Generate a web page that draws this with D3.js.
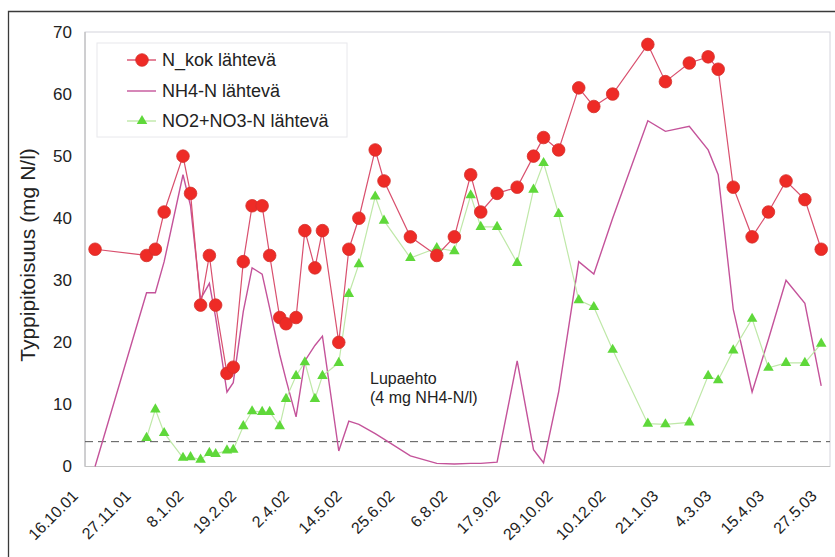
<!DOCTYPE html>
<html>
<head>
<meta charset="utf-8">
<script src="https://cdn.jsdelivr.net/npm/d3@7"></script>
<style>
  body { margin: 0; background: #fff; }
  svg { display: block; font-family: "Liberation Sans", Arial, sans-serif; }
</style>
</head>
<body>
<svg width="835" height="557"></svg>
<script>
const dates = ['24.10.01', '4.12.01', '11.12.01', '18.12.01', '2.1.02', '8.1.02', '16.1.02', '23.1.02', '28.1.02', '6.2.02',
  '11.2.02', '19.2.02', '26.2.02', '6.3.02', '12.3.02', '20.3.02', '25.3.02', '2.4.02', '9.4.02', '17.4.02',
  '23.4.02', '6.5.02', '14.5.02', '22.5.02', '4.6.02', '11.6.02', '2.7.02', '23.7.02', '6.8.02', '19.8.02',
  '27.8.02', '9.9.02', '25.9.02', '8.10.02', '16.10.02', '28.10.02', '13.11.02', '25.11.02', '10.12.02', '7.1.03',
  '21.1.03', '9.2.03', '24.2.03', '4.3.03', '16.3.03', '31.3.03', '13.4.03', '27.4.03', '12.5.03', '25.5.03'];

const nKok = [35, 34, 35, 41, 50, 44, 26, 34, 26, 15, 16, 33, 42, 42, 34, 24, 23, 24, 38, 32,
  38, 20, 35, 40, 51, 46, 37, 34, 37, 47, 41, 44, 45, 50, 53, 51, 61, 58, 60, 68,
  62, 65, 66, 64, 45, 37, 41, 46, 43, 35];

const nh4 = [0, 28, 28, 33, 47, 42, 27, 29.5, 24, 12, 13.5, 25, 32, 31, 25.5, 18, 14, 8, 17, 19.5,
  21, 2.5, 7.3, 6.8, 5.3, 4.4, 1.7, 0.5, 0.4, 0.5, 0.5, 0.7, 17, 2.7, 0.6, 12, 33, 31, 40, 55.7,
  54, 54.8, 51, 47, 25.3, 12, 20.5, 30, 26.3, 13];

const no3 = [null, 4.6, 9.2, 5.4, 1.4, 1.5, 1.1, 2.2, 2.0, 2.6, 2.7, 6.5, 8.9, 8.8, 8.8, 6.5, 10.9, 14.6, 16.8, 10.9,
  14.6, 16.7, 27.8, 32.6, 43.5, 39.6, 33.6, 35.2, 34.7, 43.7, 38.6, 38.6, 32.8, 44.6, 48.9, 40.7, 26.8, 25.7, 18.8, 6.9,
  6.8, 7.1, 14.6, 13.9, 18.7, 23.8, 15.9, 16.7, 16.7, 19.8];

const tickLabels = ['16.10.01', '27.11.01', '8.1.02', '19.2.02', '2.4.02', '14.5.02', '25.6.02', '6.8.02',
  '17.9.02', '29.10.02', '10.12.02', '21.1.03', '4.3.03', '15.4.03', '27.5.03'];
const yTicks = [0, 10, 20, 30, 40, 50, 60, 70];
const limitValue = 4;

const seriesNames = ['N_kok lähtevä', 'NH4-N lähtevä', 'NO2+NO3-N lähtevä'];

const parseDate = d3.utcParse('%d.%m.%y');

const margin = { left: 85, right: 830, top: 32, bottom: 466.5 };

const x = d3.scaleUtc()
  .domain([parseDate('16.10.01'), parseDate('1.6.03')])
  .range([margin.left, margin.right]);

const y = d3.scaleLinear()
  .domain([0, 70])
  .range([margin.bottom, margin.top]);

const toPoints = values => dates.map((d, i) => ({ date: parseDate(d), v: values[i] }));

const line = d3.line()
  .defined(d => d.v != null)
  .x(d => x(d.date))
  .y(d => y(d.v));

const svg = d3.select('svg');

// page frame from the scan
svg.append('path')
  .attr('d', 'M8.5,557 V11.5 H835')
  .attr('fill', 'none')
  .attr('stroke', '#3a3a3a')
  .attr('stroke-width', 1.3);

// plot area
svg.append('rect')
  .attr('x', margin.left)
  .attr('y', margin.top)
  .attr('width', margin.right - margin.left)
  .attr('height', margin.bottom - margin.top)
  .attr('fill', 'none')
  .attr('stroke', '#d4d4dc')
  .attr('stroke-width', 1);

svg.append('line')
  .attr('x1', margin.left).attr('x2', margin.left)
  .attr('y1', margin.top).attr('y2', margin.bottom)
  .attr('stroke', '#b4b4b4');

svg.append('line')
  .attr('x1', margin.left).attr('x2', margin.right)
  .attr('y1', margin.bottom).attr('y2', margin.bottom)
  .attr('stroke', '#c4c4c4');

// y axis labels
svg.append('g')
  .selectAll('text')
  .data(yTicks)
  .enter()
  .append('text')
  .attr('x', 72)
  .attr('y', d => y(d))
  .attr('dy', '0.35em')
  .attr('text-anchor', 'end')
  .attr('font-size', 17)
  .attr('fill', '#222')
  .text(d => d);

svg.append('text')
  .attr('transform', 'translate(35,255) rotate(-90)')
  .attr('text-anchor', 'middle')
  .attr('font-size', 21)
  .attr('fill', '#222')
  .text('Typpipitoisuus (mg N/l)');

// x axis labels
svg.append('g')
  .selectAll('text')
  .data(tickLabels)
  .enter()
  .append('text')
  .attr('transform', d => `translate(${x(parseDate(d)) - 6},497) rotate(-45)`)
  .attr('text-anchor', 'end')
  .attr('font-size', 16)
  .attr('fill', '#222')
  .text(d => d);

// limit line
svg.append('line')
  .attr('x1', margin.left).attr('x2', margin.right)
  .attr('y1', y(limitValue)).attr('y2', y(limitValue))
  .attr('stroke', '#555')
  .attr('stroke-width', 1)
  .attr('stroke-dasharray', '8,5');

svg.append('text')
  .attr('x', 370)
  .attr('y', 384)
  .attr('font-size', 16)
  .attr('fill', '#222')
  .text('Lupaehto');

svg.append('text')
  .attr('x', 370)
  .attr('y', 403)
  .attr('font-size', 16)
  .attr('fill', '#222')
  .text('(4 mg NH4-N/l)');

// series lines
svg.append('path')
  .datum(toPoints(nh4))
  .attr('d', line)
  .attr('fill', 'none')
  .attr('stroke', '#c4539a')
  .attr('stroke-width', 1.4);

svg.append('path')
  .datum(toPoints(no3))
  .attr('d', line)
  .attr('fill', 'none')
  .attr('stroke', '#bfe8a8')
  .attr('stroke-width', 1.2);

svg.append('path')
  .datum(toPoints(nKok))
  .attr('d', line)
  .attr('fill', 'none')
  .attr('stroke', '#d9506e')
  .attr('stroke-width', 1.2);

const triangle = d3.symbol().type(d3.symbolTriangle).size(48);

svg.append('g')
  .selectAll('path')
  .data(toPoints(no3).filter(d => d.v != null))
  .enter()
  .append('path')
  .attr('d', triangle)
  .attr('transform', d => `translate(${x(d.date)},${y(d.v)})`)
  .attr('fill', '#5fd83a');

svg.append('g')
  .selectAll('circle')
  .data(toPoints(nKok))
  .enter()
  .append('circle')
  .attr('cx', d => x(d.date))
  .attr('cy', d => y(d.v))
  .attr('r', 6.3)
  .attr('fill', '#ee2b26')
  .attr('stroke', '#d4302c')
  .attr('stroke-width', 0.8);

// legend
const legend = svg.append('g');

legend.append('rect')
  .attr('x', 97)
  .attr('y', 43)
  .attr('width', 250)
  .attr('height', 94)
  .attr('fill', 'none')
  .attr('stroke', '#e8e8ec');

const rows = [60, 91, 121];

legend.selectAll('line')
  .data(rows)
  .enter()
  .append('line')
  .attr('x1', 127).attr('x2', 156)
  .attr('y1', d => d).attr('y2', d => d)
  .attr('stroke', (d, i) => ['#d9506e', '#c4539a', '#bfe8a8'][i])
  .attr('stroke-width', 1.4);

legend.append('circle')
  .attr('cx', 142)
  .attr('cy', rows[0])
  .attr('r', 6.3)
  .attr('fill', '#ee2b26')
  .attr('stroke', '#d4302c')
  .attr('stroke-width', 0.8);

legend.append('path')
  .attr('d', triangle)
  .attr('transform', `translate(142,${rows[2]})`)
  .attr('fill', '#5fd83a');

legend.selectAll('text')
  .data(seriesNames)
  .enter()
  .append('text')
  .attr('x', 162)
  .attr('y', (d, i) => rows[i])
  .attr('dy', '0.35em')
  .attr('font-size', 18)
  .attr('fill', '#222')
  .text(d => d);
</script>
</body>
</html>
